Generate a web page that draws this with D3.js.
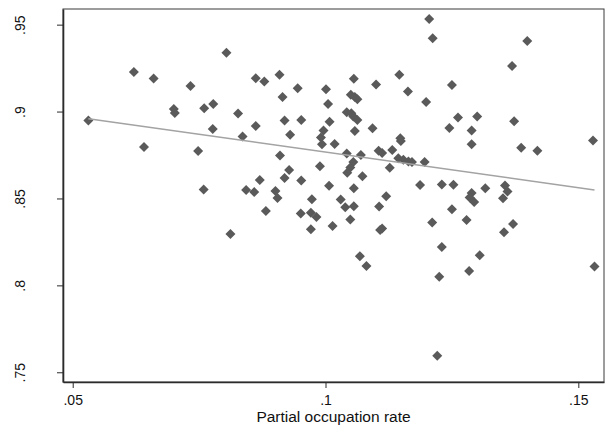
<!DOCTYPE html>
<html>
<head>
<meta charset="utf-8">
<script src="https://cdn.jsdelivr.net/npm/d3@7"></script>
<style>
  body { margin: 0; background: #fff; }
  text { font-family: "Liberation Sans", Arial, sans-serif; }
</style>
</head>
<body>
<svg width="606" height="430"></svg>
<script>
// partial occupation rate (x) and the outcome share (y)
const occRate = [
  0.0531, 0.0621, 0.0660, 0.0641, 0.0733, 0.0700, 0.0702, 0.0760, 0.0778, 0.0777,
  0.0748, 0.0759, 0.0804, 0.0827, 0.0836, 0.0862, 0.0879, 0.0862, 0.0843, 0.0859,
  0.0870, 0.0909, 0.0915, 0.0945, 0.0919, 0.0952, 0.0930, 0.0910, 0.0928, 0.0919,
  0.0952, 0.0901, 0.0905, 0.0973, 0.0882, 0.0951, 0.0971, 0.0982, 0.0971, 0.0812,
  0.1001, 0.1005, 0.1008, 0.0996, 0.0991, 0.0993, 0.1018, 0.0989, 0.1007, 0.1014,
  0.1205, 0.1212, 0.1399, 0.1369, 0.1146, 0.1056, 0.1100, 0.1250, 0.1163, 0.1050,
  0.1058, 0.1063, 0.1199, 0.1042, 0.1051, 0.1055, 0.1063, 0.1058, 0.1093, 0.1262,
  0.1300, 0.1373, 0.1245, 0.1289, 0.1148, 0.1149, 0.1289, 0.1387, 0.1419, 0.1529,
  0.1042, 0.1070, 0.1105, 0.1112, 0.1132, 0.1055, 0.1049, 0.1043, 0.1144, 0.1154,
  0.1164, 0.1171, 0.1196, 0.1127, 0.1073, 0.1056, 0.1187, 0.1230, 0.1253, 0.1316,
  0.1289, 0.1294, 0.1285, 0.1355, 0.1360, 0.1351, 0.1030, 0.1039, 0.1056, 0.1106,
  0.1120, 0.1250, 0.1049, 0.1108, 0.1112, 0.1068, 0.1081, 0.1211, 0.1279, 0.1230,
  0.1305, 0.1225, 0.1284, 0.1353, 0.1371, 0.1221, 0.1532
];
const share = [
  0.8948, 0.9228, 0.9190, 0.8796, 0.9147, 0.9015, 0.8992, 0.9019, 0.9044, 0.8900,
  0.8773, 0.8552, 0.9339, 0.8989, 0.8856, 0.9192, 0.9173, 0.8917, 0.8549, 0.8537,
  0.8606, 0.9212, 0.9083, 0.9134, 0.8949, 0.8951, 0.8867, 0.8747, 0.8664, 0.8618,
  0.8604, 0.8543, 0.8502, 0.8495, 0.8428, 0.8414, 0.8418, 0.8394, 0.8323, 0.8296,
  0.9128, 0.9043, 0.8942, 0.8891, 0.8851, 0.8812, 0.8814, 0.8686, 0.8573, 0.8342,
  0.9533, 0.9421, 0.9406, 0.9262, 0.9212, 0.9189, 0.9156, 0.9153, 0.9116, 0.9097,
  0.9084, 0.9071, 0.9055, 0.8996, 0.8990, 0.8972, 0.8951, 0.8888, 0.8904, 0.8966,
  0.8972, 0.8944, 0.8905, 0.8891, 0.8846, 0.8830, 0.8812, 0.8792, 0.8774, 0.8833,
  0.8759, 0.8750, 0.8774, 0.8762, 0.8779, 0.8710, 0.8678, 0.8648, 0.8732, 0.8722,
  0.8713, 0.8710, 0.8710, 0.8677, 0.8628, 0.8559, 0.8578, 0.8581, 0.8579, 0.8558,
  0.8532, 0.8479, 0.8506, 0.8574, 0.8540, 0.8501, 0.8494, 0.8449, 0.8455, 0.8453,
  0.8513, 0.8438, 0.8379, 0.8319, 0.8327, 0.8168, 0.8112, 0.8362, 0.8376, 0.8221,
  0.8173, 0.8050, 0.8083, 0.8306, 0.8353, 0.7595, 0.8109
];

const xTicks = [0.05, 0.1, 0.15];
const xTickLabels = [".05", ".1", ".15"];
const yTicks = [0.75, 0.8, 0.85, 0.9, 0.95];
const yTickLabels = [".75", ".8", ".85", ".9", ".95"];
const xTitle = "Partial occupation rate";

var points = occRate.map((x, i) => ({ x: x, y: share[i] }));

var svg = d3.select("svg");
var plotL = 63, plotR = 604, plotT = 9, plotB = 382;

var x = d3.scaleLinear().domain([0.04808, 0.15508]).range([plotL, plotR]);
var y = d3.scaleLinear().domain([0.7444, 0.959]).range([plotB, plotT]);

// linear fit, like lfit
var mx = d3.mean(points, d => d.x), my = d3.mean(points, d => d.y);
var b = d3.sum(points, d => (d.x - mx) * (d.y - my)) / d3.sum(points, d => (d.x - mx) * (d.x - mx));
var a = my - b * mx;
var xr = d3.extent(occRate);
var fit = xr.map(v => ({ x: v, y: a + b * v }));

svg.append("rect")
    .attr("x", plotL).attr("y", plotT)
    .attr("width", plotR - plotL).attr("height", plotB - plotT)
    .attr("fill", "#fff")
    .attr("stroke", "#3a3a3a")
    .attr("stroke-width", 1);

var xAxis = svg.append("g")
    .attr("transform", `translate(0,${plotB})`)
    .call(d3.axisBottom(x).tickValues(xTicks).tickSizeInner(6).tickSizeOuter(0).tickPadding(7)
        .tickFormat((d, i) => xTickLabels[i]));

var yAxis = svg.append("g")
    .attr("transform", `translate(${plotL},0)`)
    .call(d3.axisLeft(y).tickValues(yTicks).tickSizeInner(6).tickSizeOuter(0)
        .tickFormat((d, i) => yTickLabels[i]));

[xAxis, yAxis].forEach(g => {
    g.select(".domain").attr("stroke", "#2b2b2b").attr("stroke-width", 1.6);
    g.selectAll(".tick line").attr("stroke", "#2b2b2b");
    g.selectAll("text").attr("fill", "#111").style("font-size", "14px");
});

yAxis.selectAll(".tick text")
    .attr("x", null).attr("dy", null)
    .attr("text-anchor", "middle")
    .attr("transform", "translate(-38,0) rotate(-90)")
    .attr("y", 0);

svg.append("text")
    .attr("x", (plotL + plotR) / 2)
    .attr("y", 422)
    .attr("text-anchor", "middle")
    .attr("fill", "#111")
    .style("font-size", "15.5px")
    .text(xTitle);

var diamond = d3.symbol().type(d3.symbolSquare).size(50);

svg.append("g")
    .selectAll("path")
    .data(points)
    .enter().append("path")
    .attr("d", diamond)
    .attr("transform", d => `translate(${x(d.x)},${y(d.y)}) rotate(45)`)
    .attr("fill", "#5a5a5a");

svg.append("path")
    .datum(fit)
    .attr("fill", "none")
    .attr("stroke", "#a3a3a3")
    .attr("stroke-width", 1.5)
    .attr("d", d3.line().x(d => x(d.x)).y(d => y(d.y)));
</script>
</body>
</html>
